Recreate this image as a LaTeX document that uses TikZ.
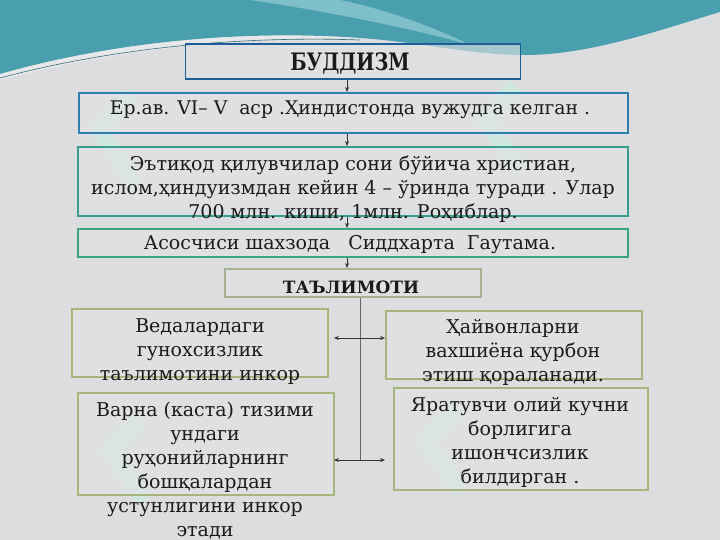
\documentclass[tikz,border=0pt]{standalone}
\usepackage{fontspec}
\setmainfont{DejaVu Serif}
\newfontfamily\condfont[FakeStretch=0.8]{DejaVu Serif}
\usetikzlibrary{arrows.meta}
\definecolor{bgc}{HTML}{DCDDDF}
\definecolor{boxfill}{HTML}{E2E3E4}
\definecolor{tealA}{HTML}{4A9FAE}
\definecolor{tealB}{HTML}{8CC8D0}
\definecolor{titleb}{HTML}{1E5C9A}
\definecolor{b2c}{HTML}{2F7FB0}
\definecolor{b3c}{HTML}{3A9C8E}
\definecolor{b4c}{HTML}{3AA67C}
\definecolor{talc}{HTML}{A9B193}
\definecolor{lowc}{HTML}{A7B57C}
\definecolor{inkc}{HTML}{1A1A1A}
\definecolor{mint}{HTML}{C9EEDD}
\begin{document}
\begin{tikzpicture}[x=1pt,y=-1pt,
  box/.style={draw, line width=1.8pt, fill=boxfill, fill opacity=0.6, inner sep=0pt},
  txt/.style={text=inkc, align=center, inner sep=0pt, font=\fontsize{19}{24}\selectfont},
  arr/.style={draw=black!80, line width=0.8pt, -{Stealth[length=5pt,width=4pt]}},
  darr/.style={draw=black!80, line width=0.8pt, {Stealth[length=5pt,width=4pt]}-{Stealth[length=5pt,width=4pt]}},
  vline/.style={draw=black!60, line width=1pt},
  wm/.style={draw=mint, line width=16pt, opacity=0.6, line join=round}]
\useasboundingbox (0,0) rectangle (720,540);
\fill[bgc] (0,0) rectangle (720,540);
% top teal background
\fill[tealA] (0,0) -- (720,0) -- (720,12)
  .. controls (660,30) and (590,55) .. (525,55)
  .. controls (470,55) and (420,42) .. (360,38)
  .. controls (250,30) and (120,40) .. (0,74) -- cycle;
\fill[tealB, opacity=0.8] (250,0) .. controls (320,10) and (420,30) .. (470,45)
  .. controls (430,25) and (380,8) .. (340,0) -- cycle;
\fill[white, opacity=0.35] (0,74) .. controls (120,40) and (250,30) .. (360,38)
  .. controls (250,36) and (120,48) .. (0,80) -- cycle;
\draw[tealA!70!black, line width=0.6pt] (0,78) .. controls (120,46) and (250,36) .. (360,40);
% faint watermark marks
\draw[wm] (130,95) -- (100,130) -- (135,185);
\draw[wm] (515,85) -- (485,120) -- (520,170);
\draw[wm] (140,420) -- (110,450) -- (145,500);
\draw[wm] (455,410) -- (425,440) -- (460,490);
% boxes
\node[box, draw=titleb, minimum width=335pt, minimum height=35pt] (title) at (353,61.5) {};
\node[box, draw=b2c, minimum width=549pt, minimum height=40pt] (b2) at (353.5,113) {};
\node[box, draw=b3c, minimum width=550pt, minimum height=69pt] (b3) at (353,181.5) {};
\node[box, draw=b4c, minimum width=550pt, minimum height=28pt] (b4) at (353,243) {};
\node[box, draw=talc, minimum width=256pt, minimum height=28pt] (tal) at (353,283) {};
\node[box, draw=lowc, minimum width=256pt, minimum height=68pt] (L1) at (200,343) {};
\node[box, draw=lowc, minimum width=256pt, minimum height=68pt] (R1) at (514,345) {};
\node[box, draw=lowc, minimum width=256pt, minimum height=102pt] (L2) at (206,444) {};
\node[box, draw=lowc, minimum width=254pt, minimum height=102pt] (R2) at (521,439) {};
% texts
\node[txt, font=\condfont\bfseries\fontsize{24}{28}\selectfont] (t0) at (350,63) {БУДДИЗМ};
\node[txt, font=\fontsize{18.8}{24}\selectfont] (t2) at (350,110) {Ер.ав. VI– V\ \ аср .Ҳиндистонда вужудга келган .};
\node[txt] (t3) at (353,189) {Эътиқод қилувчилар сони бўйича христиан,\\ислом,ҳиндуизмдан кейин 4 – ўринда туради . Улар\\700 млн. киши, 1млн. Роҳиблар.};
\node[txt] (t4) at (350,245) {Асосчиси шахзода\ \ \ Сиддхарта\ \ Гаутама.};
\node[txt, font=\bfseries\fontsize{17}{24}\selectfont] (t5) at (351,287) {ТАЪЛИМОТИ};
\node[txt] (tL1) at (200,352) {Ведалардаги\\гунохсизлик\\таълимотини инкор};
\node[txt] (tR1) at (513,352) {Ҳайвонларни\\вахшиёна қурбон\\этиш қораланади.};
\node[txt] (tL2) at (205,471) {Варна (каста) тизими\\ундаги\\руҳонийларнинг\\бошқалардан\\устунлигини инкор\\этади};
\node[txt] (tR2) at (520,442) {Яратувчи олий кучни\\борлигига\\ишончсизлик\\билдирган .};
% connectors
\coordinate (ax) at (347,0);
\coordinate (vx) at (360,0);
\coordinate (j1) at (360,338);
\coordinate (j2) at (360,460);
\draw[arr] (title.south -| ax) -- (b2.north -| ax);
\draw[arr] (b2.south -| ax) -- (b3.north -| ax);
\draw[arr] (b3.south -| ax) -- (b4.north -| ax);
\draw[arr] (b4.south -| ax) -- (tal.north -| ax);
\draw[vline] (tal.south -| vx) -- (j2);
\draw[darr] ([xshift=5pt]L1.east |- j1) -- (R1.west |- j1);
\draw[darr] ([xshift=-1pt]L2.east |- j2) -- ([xshift=-8pt]R2.west |- j2);
\end{tikzpicture}
\end{document}
